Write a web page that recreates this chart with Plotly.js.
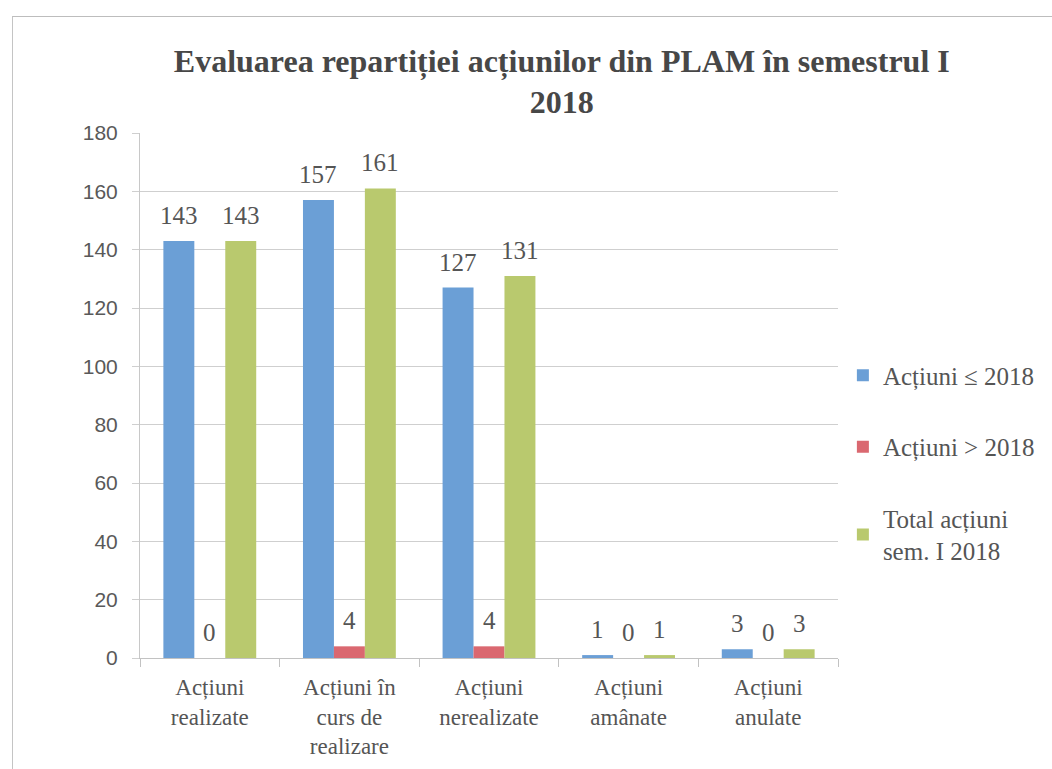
<!DOCTYPE html>
<html>
<head>
<meta charset="utf-8">
<script src="https://cdn.plot.ly/plotly-3.0.1.min.js"></script>
<style>
  html, body { margin: 0; padding: 0; background: #ffffff; }
  #wrap { position: relative; width: 1052px; height: 769px; overflow: hidden; }
  #frame { position: absolute; left: 12px; top: 16px; width: 1060px; height: 780px;
           border-left: 1px solid #c4c4c4; border-top: 1px solid #bdbdbd; pointer-events: none; }
  #chart { position: absolute; left: 0; top: 0; width: 1052px; height: 769px; }
</style>
</head>
<body>
<div id="wrap">
  <div id="chart"></div>
  <div id="frame"></div>
</div>
<script>
const categories = [
  "Acțiuni<br>realizate",
  "Acțiuni în<br>curs de<br>realizare",
  "Acțiuni<br>nerealizate",
  "Acțiuni<br>amânate",
  "Acțiuni<br>anulate"
];
const seriesNames = ["Acțiuni ≤ 2018", "Acțiuni > 2018", "Total acțiuni<br>sem. I 2018"];
const actiuniPana2018 = [143, 157, 127, 1, 3];
const actiuniDupa2018 = [0, 4, 4, 0, 0];
const totalActiuni = [143, 161, 131, 1, 3];
const yTicks = [0, 20, 40, 60, 80, 100, 120, 140, 160, 180];

const colors = ["#6b9fd6", "#da6870", "#b9c96e"];
const seriesValues = [actiuniPana2018, actiuniDupa2018, totalActiuni];
const serif = "Liberation Serif";
const sans = "Liberation Sans";

const traces = seriesValues.map((vals, i) => ({
  type: "bar",
  name: seriesNames[i],
  x: categories,
  y: vals,
  marker: { color: colors[i] },
  legendgroup: "g" + i,
  hoverinfo: "x+y"
}));

// data labels via annotations, placed from the data values
const offsets = [-31, 0, 31];
const annotations = [];
seriesValues.forEach((vals, i) => {
  vals.forEach((v, j) => {
    annotations.push({
      x: categories[j], y: v, xref: "x", yref: "y",
      text: String(v), showarrow: false,
      xshift: offsets[i], yshift: 10, yanchor: "bottom",
      font: { family: serif, size: 25, color: "#555555" }
    });
  });
});

const layout = {
  width: 1052, height: 769,
  paper_bgcolor: "rgba(0,0,0,0)",
  plot_bgcolor: "rgba(0,0,0,0)",
  margin: { l: 140, r: 212, t: 133, b: 111 },
  title: {
    text: "<b>Evaluarea repartiției acțiunilor din PLAM în semestrul I<br>2018</b>",
    x: 0.534, xref: "container", xanchor: "center",
    y: 0.907, yref: "container", yanchor: "top",
    font: { family: serif, size: 32, color: "#474747" }
  },
  barmode: "group",
  bargap: 0.335,
  bargroupgap: 0,
  showlegend: true,
  legend: {
    x: 1.007, xanchor: "left", y: 0.582, yanchor: "top",
    font: { family: serif, size: 25, color: "#555555" },
    tracegroupgap: 36,
    itemwidth: 30,
    bgcolor: "rgba(0,0,0,0)"
  },
  xaxis: {
    type: "category",
    tickfont: { family: serif, size: 23, color: "#555555" },
    showline: true, linecolor: "#c2c2c2", linewidth: 1,
    ticks: "outside", ticklen: 8, tickcolor: "#c2c2c2",
    tickson: "boundaries",
    showgrid: false,
    ticklabelstandoff: 8
  },
  yaxis: {
    range: [0, 180],
    tickvals: yTicks,
    ticktext: yTicks.map(String),
    tickfont: { family: sans, size: 21, color: "#595959" },
    showgrid: true, gridcolor: "#cfcfcf", gridwidth: 1,
    showline: true, linecolor: "#c8c8c8", linewidth: 1,
    ticks: "outside", ticklen: 7, tickcolor: "#cfcfcf",
    zeroline: false,
    ticklabelstandoff: 10
  },
  annotations: annotations
};

Plotly.newPlot("chart", traces, layout, { displayModeBar: false, staticPlot: true });
</script>
</body>
</html>
